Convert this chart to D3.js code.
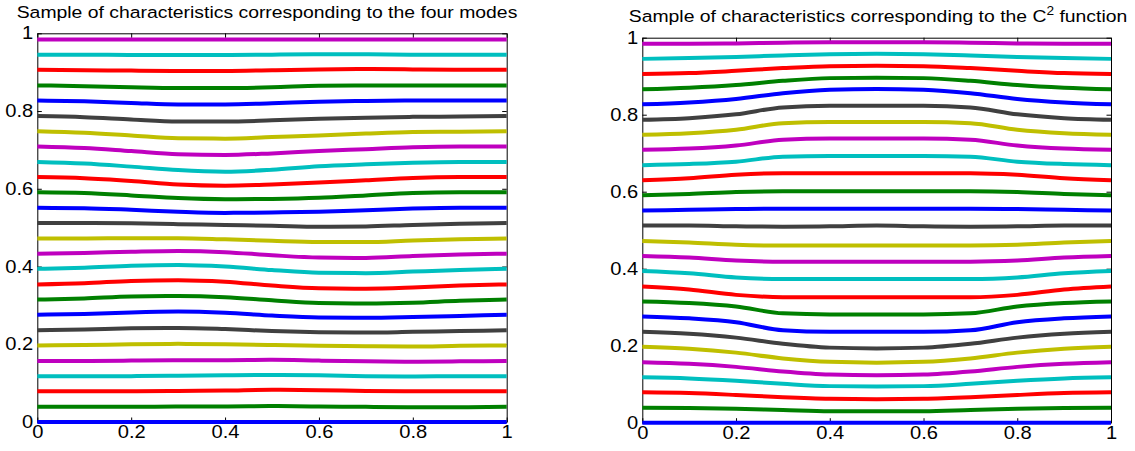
<!DOCTYPE html>
<html>
<head>
<meta charset="utf-8">
<script src="https://cdn.jsdelivr.net/npm/d3@7"></script>
<style>
    body {margin: 0; background: #fff;}
    text {font-family: "Liberation Sans", Arial, Helvetica, sans-serif;}
</style>
</head>
<body>
<svg id="chart" width="1135" height="451"></svg>
<script>
const xSamples = [0, 0.1, 0.2, 0.3, 0.4, 0.5, 0.6, 0.7, 0.8, 0.9, 1];
const tickValues = [0, 0.2, 0.4, 0.6, 0.8, 1];

// matlab default line colour order
const lineColors = ["#0000ff", "#008000", "#ff0000", "#00bfbf", "#bf00bf", "#bfbf00", "#404040"];

// left panel: characteristics for the four modes (bottom line first)
const modesLines = [
    [0.000, 0.000, 0.000, 0.000, 0.000, 0.000, 0.000, 0.000, 0.000, 0.000, 0.000],
    [0.039, 0.039, 0.039, 0.040, 0.040, 0.041, 0.040, 0.039, 0.038, 0.038, 0.039],
    [0.079, 0.079, 0.079, 0.080, 0.081, 0.083, 0.082, 0.080, 0.079, 0.079, 0.079],
    [0.118, 0.118, 0.118, 0.119, 0.120, 0.121, 0.120, 0.118, 0.117, 0.118, 0.118],
    [0.157, 0.157, 0.158, 0.159, 0.159, 0.160, 0.158, 0.156, 0.155, 0.156, 0.157],
    [0.197, 0.198, 0.200, 0.201, 0.200, 0.198, 0.196, 0.195, 0.194, 0.196, 0.197],
    [0.236, 0.238, 0.241, 0.242, 0.239, 0.234, 0.231, 0.230, 0.232, 0.234, 0.236],
    [0.276, 0.278, 0.282, 0.284, 0.281, 0.274, 0.269, 0.268, 0.270, 0.273, 0.276],
    [0.315, 0.318, 0.323, 0.324, 0.321, 0.313, 0.306, 0.305, 0.307, 0.312, 0.315],
    [0.354, 0.357, 0.363, 0.365, 0.361, 0.351, 0.344, 0.343, 0.346, 0.351, 0.354],
    [0.394, 0.397, 0.402, 0.404, 0.400, 0.391, 0.384, 0.383, 0.387, 0.391, 0.394],
    [0.433, 0.435, 0.438, 0.440, 0.437, 0.429, 0.423, 0.422, 0.427, 0.431, 0.433],
    [0.472, 0.472, 0.473, 0.473, 0.470, 0.466, 0.463, 0.463, 0.467, 0.470, 0.472],
    [0.512, 0.512, 0.511, 0.509, 0.507, 0.505, 0.502, 0.503, 0.507, 0.510, 0.512],
    [0.551, 0.550, 0.546, 0.541, 0.538, 0.539, 0.541, 0.545, 0.549, 0.551, 0.551],
    [0.591, 0.589, 0.583, 0.576, 0.573, 0.574, 0.577, 0.583, 0.589, 0.591, 0.591],
    [0.630, 0.627, 0.620, 0.611, 0.608, 0.611, 0.616, 0.622, 0.628, 0.630, 0.630],
    [0.669, 0.665, 0.657, 0.648, 0.644, 0.649, 0.658, 0.663, 0.667, 0.669, 0.669],
    [0.709, 0.705, 0.697, 0.689, 0.687, 0.691, 0.697, 0.702, 0.707, 0.709, 0.709],
    [0.748, 0.744, 0.737, 0.730, 0.729, 0.733, 0.737, 0.742, 0.746, 0.747, 0.748],
    [0.787, 0.784, 0.778, 0.773, 0.773, 0.776, 0.780, 0.783, 0.785, 0.786, 0.787],
    [0.827, 0.825, 0.821, 0.817, 0.817, 0.820, 0.824, 0.826, 0.827, 0.827, 0.827],
    [0.866, 0.864, 0.861, 0.859, 0.859, 0.861, 0.865, 0.866, 0.866, 0.866, 0.866],
    [0.906, 0.905, 0.904, 0.903, 0.903, 0.905, 0.907, 0.908, 0.907, 0.906, 0.906],
    [0.945, 0.945, 0.944, 0.944, 0.944, 0.945, 0.946, 0.946, 0.945, 0.945, 0.945],
    [0.984, 0.984, 0.984, 0.984, 0.984, 0.984, 0.984, 0.984, 0.984, 0.984, 0.984]
];

// right panel: characteristics for the C^2 function
const c2Lines = [
    [0.000, 0.000, 0.000, 0.000, 0.000, 0.000, 0.000, 0.000, 0.000, 0.000, 0.000],
    [0.039, 0.038, 0.036, 0.033, 0.030, 0.030, 0.030, 0.033, 0.036, 0.038, 0.039],
    [0.079, 0.077, 0.072, 0.066, 0.062, 0.061, 0.062, 0.066, 0.072, 0.077, 0.079],
    [0.118, 0.115, 0.109, 0.101, 0.095, 0.094, 0.095, 0.101, 0.109, 0.115, 0.118],
    [0.157, 0.153, 0.145, 0.133, 0.125, 0.123, 0.125, 0.133, 0.145, 0.153, 0.157],
    [0.197, 0.192, 0.182, 0.167, 0.158, 0.156, 0.158, 0.167, 0.182, 0.192, 0.197],
    [0.236, 0.231, 0.221, 0.205, 0.195, 0.193, 0.195, 0.205, 0.221, 0.231, 0.236],
    [0.276, 0.271, 0.261, 0.240, 0.236, 0.236, 0.236, 0.240, 0.261, 0.271, 0.276],
    [0.315, 0.311, 0.302, 0.284, 0.281, 0.281, 0.281, 0.284, 0.302, 0.311, 0.315],
    [0.354, 0.346, 0.332, 0.326, 0.326, 0.326, 0.326, 0.326, 0.332, 0.346, 0.354],
    [0.394, 0.388, 0.377, 0.373, 0.373, 0.373, 0.373, 0.373, 0.377, 0.388, 0.394],
    [0.433, 0.429, 0.421, 0.418, 0.418, 0.418, 0.418, 0.418, 0.421, 0.429, 0.433],
    [0.472, 0.468, 0.462, 0.460, 0.460, 0.460, 0.460, 0.460, 0.462, 0.468, 0.472],
    [0.512, 0.512, 0.510, 0.509, 0.510, 0.512, 0.510, 0.509, 0.510, 0.512, 0.512],
    [0.551, 0.553, 0.555, 0.556, 0.556, 0.556, 0.556, 0.556, 0.555, 0.553, 0.551],
    [0.591, 0.594, 0.599, 0.601, 0.601, 0.601, 0.601, 0.601, 0.599, 0.594, 0.591],
    [0.630, 0.635, 0.644, 0.648, 0.648, 0.648, 0.648, 0.648, 0.644, 0.635, 0.630],
    [0.669, 0.672, 0.678, 0.691, 0.693, 0.693, 0.693, 0.691, 0.678, 0.672, 0.669],
    [0.709, 0.712, 0.720, 0.735, 0.738, 0.738, 0.738, 0.735, 0.720, 0.712, 0.709],
    [0.748, 0.752, 0.761, 0.778, 0.781, 0.781, 0.781, 0.778, 0.761, 0.752, 0.748],
    [0.787, 0.791, 0.801, 0.819, 0.823, 0.823, 0.823, 0.819, 0.801, 0.791, 0.787],
    [0.827, 0.832, 0.841, 0.856, 0.865, 0.867, 0.865, 0.856, 0.841, 0.832, 0.827],
    [0.866, 0.870, 0.877, 0.888, 0.895, 0.896, 0.895, 0.888, 0.877, 0.870, 0.866],
    [0.906, 0.908, 0.914, 0.921, 0.926, 0.927, 0.926, 0.921, 0.914, 0.908, 0.906],
    [0.945, 0.947, 0.950, 0.954, 0.957, 0.958, 0.957, 0.954, 0.950, 0.947, 0.945],
    [0.984, 0.984, 0.985, 0.987, 0.988, 0.988, 0.988, 0.987, 0.985, 0.984, 0.984]
];

const panels = [
    {lines: modesLines, left: 37.3, right: 506.7, top: 33.3, bottom: 422, titleX: 267, titleY: 18.3,
        title: ["Sample of characteristics corresponding to the four modes"]},
    {lines: c2Lines, left: 642.3, right: 1111, top: 37.7, bottom: 422.7, titleX: 878, titleY: 22,
        title: ["Sample of characteristics corresponding to the C", "2", " function"]}
];

const svg = d3.select("#chart");
const tickLen = 4.5;
// the figure text is a bit wider than the font, stretch it horizontally
const tickStretch = 1.15;
const titleStretch = 1.14;

panels.forEach(p => {
    const x = d3.scaleLinear().domain([0, 1]).range([p.left, p.right]);
    const y = d3.scaleLinear().domain([0, 1]).range([p.bottom, p.top]);
    const g = svg.append("g");

    // box with inward ticks on all four sides
    const fmt = d => String(d);
    const axes = [
        {ax: d3.axisBottom(x).tickFormat(fmt), tr: `translate(0,${p.bottom})`, pad: 4},
        {ax: d3.axisTop(x).tickFormat(""), tr: `translate(0,${p.top})`, pad: 4},
        {ax: d3.axisLeft(y).tickFormat(fmt), tr: `translate(${p.left},0)`, pad: 3.5},
        {ax: d3.axisRight(y).tickFormat(""), tr: `translate(${p.right},0)`, pad: 4}
    ];
    axes.forEach(a => {
        const ag = g.append("g")
            .attr("transform", a.tr)
            .call(a.ax.tickValues(tickValues).tickSizeInner(-tickLen).tickSizeOuter(0).tickPadding(a.pad));
        ag.select(".domain").attr("stroke", "#000").attr("stroke-width", 1);
        ag.selectAll("line").attr("stroke", "#000").attr("stroke-width", 1);
        ag.selectAll("text")
            .attr("fill", "#000")
            .attr("font-size", "17.5px")
            .attr("font-family", "'Liberation Sans', Arial, sans-serif")
            .attr("transform", `scale(${tickStretch},1)`);
    });

    const line = d3.line()
        .x((d, i) => x(xSamples[i]))
        .y(d => y(d))
        .curve(d3.curveMonotoneX);

    g.selectAll(".char")
        .data(p.lines)
        .enter()
        .append("path")
        .attr("class", "char")
        .attr("fill", "none")
        .attr("stroke", (d, i) => lineColors[i % lineColors.length])
        .attr("stroke-width", 4)
        .attr("d", d => line(d));

    const t = svg.append("text")
        .attr("transform", `translate(${p.titleX},${p.titleY}) scale(${titleStretch},1)`)
        .attr("text-anchor", "middle")
        .attr("font-size", "17px")
        .attr("fill", "#000");
    t.append("tspan").text(p.title[0]);
    if (p.title.length > 1) {
        t.append("tspan").attr("dy", -7).attr("font-size", "12px").text(p.title[1]);
        t.append("tspan").attr("dy", 7).text(p.title[2]);
    }
});
</script>
</body>
</html>
